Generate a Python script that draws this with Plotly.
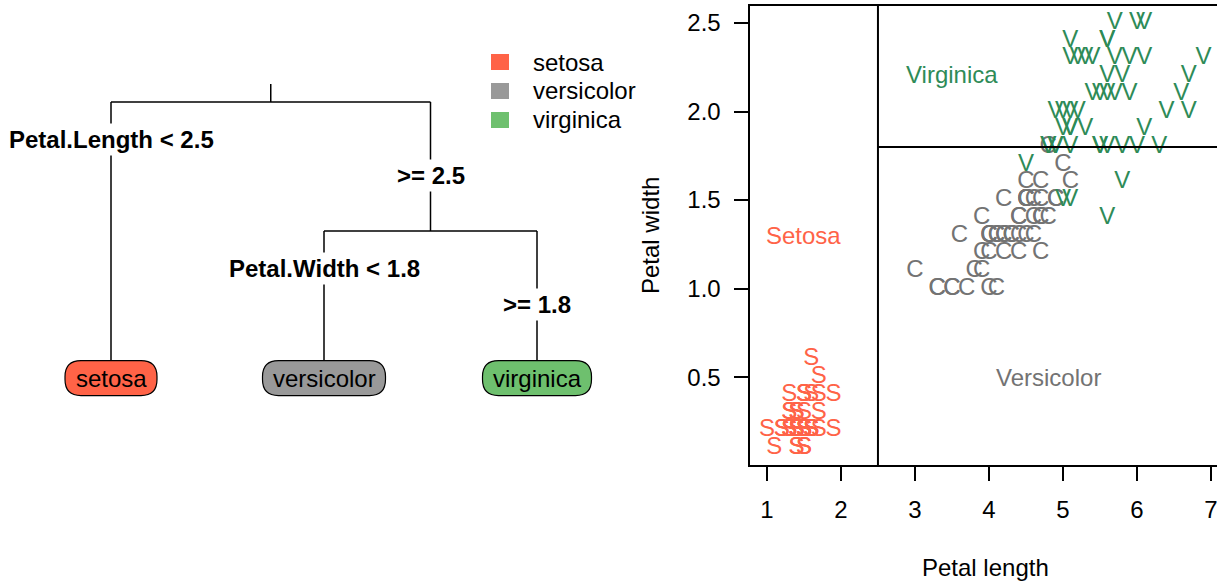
import plotly.graph_objects as go

# ---------------------------------------------------------------- data
# Fisher's iris: petal length / petal width for each species
setosa_petal_length = [1.4, 1.4, 1.3, 1.5, 1.4, 1.7, 1.4, 1.5, 1.4, 1.5, 1.5, 1.6, 1.4, 1.1, 1.2, 1.5, 1.3,
                       1.4, 1.7, 1.5, 1.7, 1.5, 1.0, 1.7, 1.9, 1.6, 1.6, 1.5, 1.4, 1.6, 1.6, 1.5, 1.5, 1.4,
                       1.5, 1.2, 1.3, 1.4, 1.3, 1.5, 1.3, 1.3, 1.3, 1.6, 1.9, 1.4, 1.6, 1.4, 1.5, 1.4]
setosa_petal_width = [0.2, 0.2, 0.2, 0.2, 0.2, 0.4, 0.3, 0.2, 0.2, 0.1, 0.2, 0.2, 0.1, 0.1, 0.2, 0.4, 0.4,
                      0.3, 0.3, 0.3, 0.2, 0.4, 0.2, 0.5, 0.2, 0.2, 0.4, 0.2, 0.2, 0.2, 0.2, 0.4, 0.1, 0.2,
                      0.2, 0.2, 0.2, 0.1, 0.2, 0.2, 0.3, 0.3, 0.2, 0.6, 0.4, 0.3, 0.2, 0.2, 0.2, 0.2]
versicolor_petal_length = [4.7, 4.5, 4.9, 4.0, 4.6, 4.5, 4.7, 3.3, 4.6, 3.9, 3.5, 4.2, 4.0, 4.7, 3.6, 4.4,
                           4.5, 4.1, 4.5, 3.9, 4.8, 4.0, 4.9, 4.7, 4.3, 4.4, 4.8, 5.0, 4.5, 3.5, 3.8, 3.7,
                           3.9, 5.1, 4.5, 4.5, 4.7, 4.4, 4.1, 4.0, 4.4, 4.6, 4.0, 3.3, 4.2, 4.2, 4.2, 4.3,
                           3.0, 4.1]
versicolor_petal_width = [1.4, 1.5, 1.5, 1.3, 1.5, 1.3, 1.6, 1.0, 1.3, 1.4, 1.0, 1.5, 1.0, 1.4, 1.3, 1.4,
                          1.5, 1.0, 1.5, 1.1, 1.8, 1.3, 1.5, 1.2, 1.3, 1.4, 1.4, 1.7, 1.5, 1.0, 1.1, 1.0,
                          1.2, 1.6, 1.5, 1.6, 1.5, 1.3, 1.3, 1.3, 1.2, 1.4, 1.2, 1.0, 1.3, 1.2, 1.3, 1.3,
                          1.1, 1.3]
virginica_petal_length = [6.0, 5.1, 5.9, 5.6, 5.8, 6.6, 4.5, 6.3, 5.8, 6.1, 5.1, 5.3, 5.5, 5.0, 5.1, 5.3,
                          5.5, 6.7, 6.9, 5.0, 5.7, 4.9, 6.7, 4.9, 5.7, 6.0, 4.8, 4.9, 5.6, 5.8, 6.1, 6.4,
                          5.6, 5.1, 5.6, 6.1, 5.6, 5.5, 4.8, 5.4, 5.6, 5.1, 5.1, 5.9, 5.7, 5.2, 5.0, 5.2,
                          5.4, 5.1]
virginica_petal_width = [2.5, 1.9, 2.1, 1.8, 2.2, 2.1, 1.7, 1.8, 1.8, 2.5, 2.0, 1.9, 2.1, 2.0, 2.4, 2.3,
                         1.8, 2.2, 2.3, 1.5, 2.3, 2.0, 2.0, 1.8, 2.1, 1.8, 1.8, 1.8, 2.1, 1.6, 1.9, 2.0,
                         2.2, 1.5, 1.4, 2.3, 2.4, 1.8, 1.8, 2.1, 2.4, 2.3, 1.9, 2.3, 2.5, 2.3, 1.9, 2.0,
                         2.3, 1.8]

species = ["setosa", "versicolor", "virginica"]
species_letters = ["S", "C", "V"]
region_labels = ["Setosa", "Versicolor", "Virginica"]

# fitted classification tree
split_petal_length = 2.5
split_petal_width = 1.8
tree = {
    "left_rule": f"Petal.Length < {split_petal_length}",
    "right_rule": f">= {split_petal_length}",
    "left": "setosa",
    "right": {
        "left_rule": f"Petal.Width < {split_petal_width}",
        "right_rule": f">= {split_petal_width}",
        "left": "versicolor",
        "right": "virginica",
    },
}

x_ticks = [1, 2, 3, 4, 5, 6, 7]
y_ticks = [0.5, 1.0, 1.5, 2.0, 2.5]

# ---------------------------------------------------------------- styles
W, H = 1217, 581
FONT = "Liberation Sans, Arial, Helvetica, sans-serif"
FS = 24
box_fill = {"setosa": "#FF6347", "versicolor": "#999999", "virginica": "#6EC06E"}
letter_color = {"setosa": "#FF6347", "versicolor": "#737373", "virginica": "#2E8B57"}
leaf_box_width = {"setosa": 92, "versicolor": 123, "virginica": 109}
LEAF_BOX_H = 35
LEAF_BOX_R = 16
LEAF_LEVEL = 2.14        # leaves sit below the last split bar (tree depth units)
ROOT_STEM = -0.14
LEFT_LABEL_DROP = 0.29   # rule labels are staggered under each split bar
RIGHT_LABEL_DROP = 0.57


def px_x(p):
    return p / W


def px_y(p):
    return 1 - p / H


fig = go.Figure()

# ---------------------------------------------------------------- tree panel
seg_x, seg_y = [], []
rule_labels = []
leaf_nodes = []
counter = [0]


def place(node, depth):
    """Return x of node; leaves are evenly spaced, splits centred over children."""
    if isinstance(node, str):
        x = counter[0]
        counter[0] += 1
        leaf_nodes.append((node, x))
        return x
    xl = place(node["left"], depth + 1)
    xr = place(node["right"], depth + 1)
    seg_x.extend([xl, xr, None])
    seg_y.extend([depth, depth, None])
    for child, xc in ((node["left"], xl), (node["right"], xr)):
        y_end = LEAF_LEVEL if isinstance(child, str) else depth + 1
        seg_x.extend([xc, xc, None])
        seg_y.extend([depth, y_end, None])
    rule_labels.append((node["left_rule"], xl, depth + LEFT_LABEL_DROP))
    rule_labels.append((node["right_rule"], xr, depth + RIGHT_LABEL_DROP))
    return (xl + xr) / 2


root_x = place(tree, 0)
seg_x.extend([root_x, root_x, None])
seg_y.extend([ROOT_STEM, 0, None])

fig.add_trace(go.Scatter(x=seg_x, y=seg_y, mode="lines", xaxis="x2", yaxis="y2",
                         line=dict(color="black", width=1.5), hoverinfo="skip", showlegend=False))

shapes = []
annotations = []
for name, x in leaf_nodes:
    w, h, r = leaf_box_width[name] / 2, LEAF_BOX_H / 2, LEAF_BOX_R
    path = (f"M {-w + r},{-h} L {w - r},{-h} Q {w},{-h} {w},{-h + r} "
            f"L {w},{h - r} Q {w},{h} {w - r},{h} L {-w + r},{h} Q {-w},{h} {-w},{h - r} "
            f"L {-w},{-h + r} Q {-w},{-h} {-w + r},{-h} Z")
    shapes.append(dict(type="path", xref="x2", yref="y2", xsizemode="pixel", ysizemode="pixel",
                       xanchor=x, yanchor=LEAF_LEVEL, path=path, fillcolor=box_fill[name],
                       line=dict(color="black", width=1.2), layer="above"))
    annotations.append(dict(x=x, y=LEAF_LEVEL, xref="x2", yref="y2", text=name, showarrow=False,
                            xanchor="center", yanchor="middle",
                            font=dict(family=FONT, size=FS, color="black")))

for text, x, y in rule_labels:
    annotations.append(dict(x=x, y=y, xref="x2", yref="y2", text=f"<b>{text}</b>", showarrow=False,
                            xanchor="center", yanchor="middle", bgcolor="white", borderpad=2,
                            font=dict(family=FONT, size=FS, color="black")))

# legend of the tree panel
for i, name in enumerate(species):
    cy = 62 + 29 * i
    shapes.append(dict(type="rect", xref="paper", yref="paper",
                       x0=px_x(491), x1=px_x(509), y0=px_y(cy - 8), y1=px_y(cy + 8),
                       fillcolor=box_fill[name], line=dict(width=0)))
    annotations.append(dict(x=px_x(531), y=px_y(cy), xref="paper", yref="paper", text=name,
                            xanchor="left", yanchor="middle", showarrow=False,
                            font=dict(family=FONT, size=FS, color="black")))

# ---------------------------------------------------------------- scatter panel
x_lo = 0.764
x_hi = x_lo + (W - 749.5) / 74.0
y_lo, y_hi = 0.004, 2.596

for name, letter, xs, ys in (
        ("setosa", "S", setosa_petal_length, setosa_petal_width),
        ("versicolor", "C", versicolor_petal_length, versicolor_petal_width),
        ("virginica", "V", virginica_petal_length, virginica_petal_width)):
    fig.add_trace(go.Scatter(x=xs, y=ys, mode="text", text=[letter] * len(xs),
                             textposition="middle center", cliponaxis=True,
                             textfont=dict(family=FONT, size=FS, color=letter_color[name]),
                             hoverinfo="skip", showlegend=False))

# partition lines of the tree
shapes.append(dict(type="line", xref="x", yref="y domain", x0=split_petal_length, x1=split_petal_length,
                   y0=0, y1=1, line=dict(color="black", width=2)))
shapes.append(dict(type="line", xref="x", yref="y", x0=split_petal_length, x1=x_hi,
                   y0=split_petal_width, y1=split_petal_width, line=dict(color="black", width=2)))

# region labels
for label, name, x, y in (("Setosa", "setosa", 1.5, 1.3),
                          ("Virginica", "virginica", 3.5, 2.21),
                          ("Versicolor", "versicolor", 4.8, 0.5)):
    annotations.append(dict(x=x, y=y, xref="x", yref="y", text=label, showarrow=False,
                            xanchor="center", yanchor="middle",
                            font=dict(family=FONT, size=FS, color=letter_color[name])))

# axis titles
annotations.append(dict(x=px_x(985), y=px_y(567), xref="paper", yref="paper", text="Petal length",
                        xanchor="center", yanchor="middle",
                        showarrow=False, font=dict(family=FONT, size=FS, color="black")))
annotations.append(dict(x=px_x(650), y=px_y(236), xref="paper", yref="paper", text="Petal width",
                        xanchor="center", yanchor="middle",
                        textangle=-90, showarrow=False, font=dict(family=FONT, size=FS, color="black")))

axis_common = dict(showgrid=False, zeroline=False, showline=True, linecolor="black", linewidth=2,
                   ticks="outside", ticklen=14, tickwidth=2, tickcolor="black",
                   ticklabeloverflow="allow",
                   tickfont=dict(family=FONT, size=FS, color="black"))

fig.update_layout(
    width=W, height=H,
    margin=dict(l=0, r=0, t=0, b=0),
    paper_bgcolor="white", plot_bgcolor="white",
    showlegend=False,
    shapes=shapes,
    annotations=annotations,
    xaxis=dict(domain=[749.5 / W, 1.0], range=[x_lo, x_hi], tickvals=x_ticks,
               mirror=True, ticklabelstandoff=8, **axis_common),
    yaxis=dict(domain=[px_y(465), px_y(6)], range=[y_lo, y_hi], tickvals=y_ticks,
               tickformat=".1f", ticklabelstandoff=8, **axis_common),
    xaxis2=dict(domain=[0, 640 / W], range=[-111 / 213, (640 - 111) / 213], visible=False,
                anchor="y2"),
    yaxis2=dict(domain=[0, 1], range=[(H - 102) / 129, -102 / 129], visible=False, anchor="x2"),
)

fig.write_html("out.html")
